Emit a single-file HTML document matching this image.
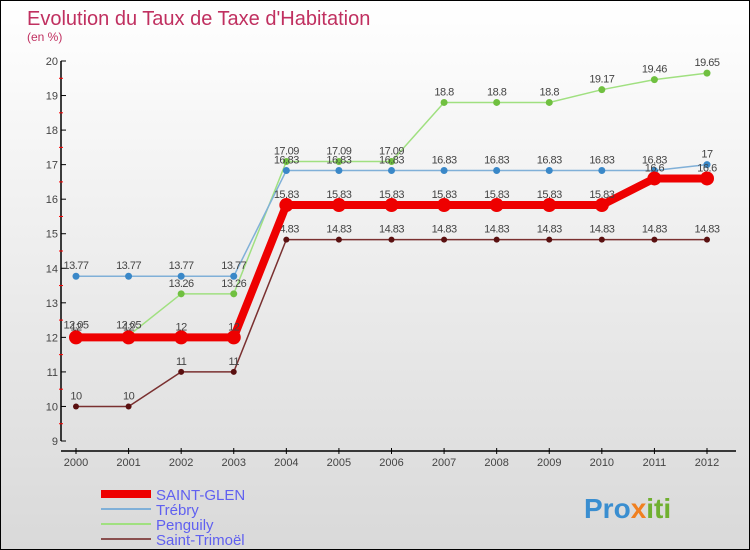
<!DOCTYPE html>
<html><head><meta charset="utf-8"><style>
body{margin:0;}
#c{width:748px;height:548px;border:1px solid #000;background:linear-gradient(#fff,#d9d9d9);position:relative;font-family:"Liberation Sans",sans-serif;overflow:hidden}
</style></head><body>
<div id="c">
<svg id="s" width="748" height="548" xmlns="http://www.w3.org/2000/svg">
<text x="26" y="24" font-size="20" fill="#c03060">Evolution du Taux de Taxe d'Habitation</text>
<text x="26" y="40" font-size="12" fill="#c03060">(en %)</text>
<g id="axes"></g><g id="series"></g><g id="legend"></g>
<text x="583" y="517" font-size="28" font-weight="bold" fill="#3a8ed0">Pro<tspan fill="#f08020">x</tspan><tspan fill="#70b030">iti</tspan></text>
</svg>
</div>
<script>
const years=[2000,2001,2002,2003,2004,2005,2006,2007,2008,2009,2010,2011,2012];
const saintGlen=[12,12,12,12,15.83,15.83,15.83,15.83,15.83,15.83,15.83,16.6,16.6];
const trebry=[13.77,13.77,13.77,13.77,16.83,16.83,16.83,16.83,16.83,16.83,16.83,16.83,17];
const penguily=[12.05,12.05,13.26,13.26,17.09,17.09,17.09,18.8,18.8,18.8,19.17,19.46,19.65];
const saintTrimoel=[10,10,11,11,14.83,14.83,14.83,14.83,14.83,14.83,14.83,14.83,14.83];
const yTicks=[9,10,11,12,13,14,15,16,17,18,19,20];
const NS="http://www.w3.org/2000/svg";
const svg=document.getElementById('s');
const X=i=>75+i*(706-75)/(years.length-1);
const Y=v=>440-(v-9)*(380/11);
function mk(t,a,p){const e=document.createElementNS(NS,t);for(const k in a)e.setAttribute(k,a[k]);(p||svg).appendChild(e);return e;}
const ax=document.getElementById('axes');
let e=mk('line',{x1:60,y1:Y(20),x2:60,y2:440,stroke:'#000','stroke-width':1.5},ax);


e=mk('line',{x1:60,y1:450,x2:735,y2:450,stroke:'#000','stroke-width':1.5},ax);


yTicks.forEach(v=>{
 mk('line',{x1:60,y1:Y(v),x2:65,y2:Y(v),stroke:'#000'},ax);
 if(v<20)mk('line',{x1:58,y1:Y(v+0.5),x2:62,y2:Y(v+0.5),stroke:'#f00'},ax);
 const t=mk('text',{x:57,y:Y(v)+4,'text-anchor':'end','font-size':11,fill:'#444'},ax);t.textContent=v;
 
 
});
years.forEach((y,i)=>{
 mk('line',{x1:X(i),y1:447,x2:X(i),y2:453,stroke:'#000'},ax);
 const t=mk('text',{x:X(i),y:465,'text-anchor':'middle','font-size':11,fill:'#444'},ax);t.textContent=y;
 
 
});
const ser=[
 {n:'saint-trimoel',d:saintTrimoel,c:'#7a3030',w:1.5,r:3,pc:'#5a1010'},
 {n:'penguily',d:penguily,c:'#a0e080',w:1.5,r:3.5,pc:'#70c040'},
 {n:'trebry',d:trebry,c:'#80b0d8',w:1.5,r:3.5,pc:'#3a88c8'},
 {n:'saint-glen',d:saintGlen,c:'#ee0000',w:8,r:7,pc:'#ee0000'}];
const sg=document.getElementById('series');
ser.forEach(s=>{
 const l=mk('polyline',{points:s.d.map((v,i)=>X(i)+','+Y(v)).join(' '),fill:'none',stroke:s.c,'stroke-width':s.w},sg);
 
 
 s.d.forEach((v,i)=>{
  const p=mk('circle',{cx:X(i),cy:Y(v),r:s.r,fill:s.pc},sg);
  
  
  const t=mk('text',{x:X(i),y:Y(v)-7,'text-anchor':'middle','font-size':11,fill:'#444','letter-spacing':'-0.5'},sg);
  t.textContent=v;
  
  
 });
});
const lg=document.getElementById('legend');
const leg=[['SAINT-GLEN','#ee0000',8],['Trébry','#80b0d8',2],['Penguily','#a0e080',2],['Saint-Trimoël','#8a5050',2]];
leg.forEach((L,i)=>{
 const y=493+i*15;
 const l=mk('line',{x1:100,y1:y,x2:150,y2:y,stroke:L[1],'stroke-width':L[2]},lg);
 
 
 const t=mk('text',{x:155,y:y+6,'font-size':15,fill:'#6060f0'},lg);t.textContent=L[0];
 
 
});
</script>
</body></html>
